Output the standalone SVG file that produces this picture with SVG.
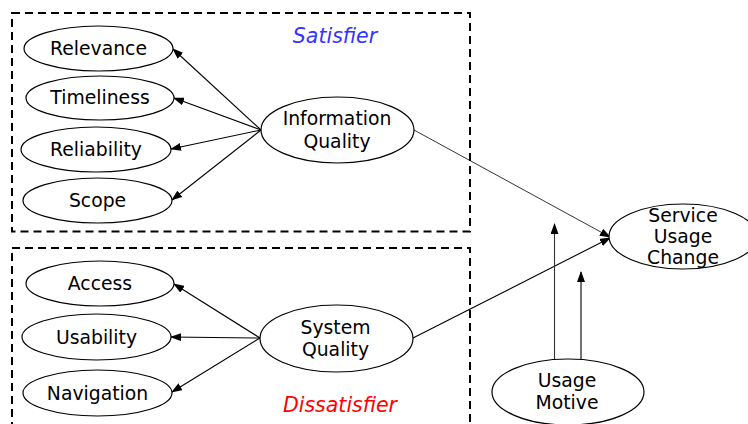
<svg xmlns="http://www.w3.org/2000/svg" width="748" height="424" viewBox="0 0 748 424">
  <style>
    .node ellipse { fill: #ffffff; stroke: #000000; stroke-width: 1.2; }
    .node text { font-family: "DejaVu Sans", Verdana, sans-serif; font-size: 18.8px; fill: #000000; text-anchor: middle; }
    .group { fill: none; stroke: #000000; stroke-width: 2; stroke-dasharray: 8 5; }
    .label { font-family: "DejaVu Sans", Verdana, sans-serif; font-size: 20.5px; font-style: italic; text-anchor: middle; }
    .edge { stroke: #000000; stroke-width: 1.1; fill: none; marker-end: url(#arrow); }
  </style>
  <defs>
    <marker id="arrow" markerUnits="userSpaceOnUse" markerWidth="11" markerHeight="8" refX="10" refY="4" orient="auto">
      <path d="M0,0 L11,4 L0,8 z" fill="#000000"/>
    </marker>
  </defs>
  <rect width="748" height="424" fill="#ffffff"/>

  <!-- dashed grouping boxes -->
  <g id="satisfier-box">
    <rect class="group" x="12" y="13" width="458" height="218.5"/>
    <text class="label" x="335" y="43" fill="#3333ff">Satisfier</text>
  </g>
  <g id="dissatisfier-box">
    <path class="group" d="M12,430 L12,248 L470,248 L470,430"/>
    <text class="label" x="340" y="412" fill="#ff0000">Dissatisfier</text>
  </g>

  <!-- connectors -->
  <g id="connectors">
    <line class="edge" x1="261" y1="130" x2="173" y2="49"/>
    <line class="edge" x1="261" y1="130" x2="174" y2="98"/>
    <line class="edge" x1="261" y1="130" x2="171" y2="149"/>
    <line class="edge" x1="261" y1="130" x2="172" y2="200"/>
    <line class="edge" x1="260" y1="338" x2="174" y2="284"/>
    <line class="edge" x1="260" y1="338" x2="171" y2="337"/>
    <line class="edge" x1="260" y1="338" x2="172" y2="392"/>
    <line class="edge" x1="414" y1="130" x2="610" y2="237" style="stroke-width:0.8"/>
    <line class="edge" x1="413" y1="338" x2="610" y2="238"/>
    <line class="edge" x1="554.5" y1="359" x2="554.5" y2="224" style="stroke:#333333"/>
    <line class="edge" x1="581" y1="360" x2="581" y2="272"/>
  </g>

  <!-- nodes -->
  <g id="relevance" class="node">
    <ellipse cx="98.5" cy="48.5" rx="74.5" ry="22.5"/>
    <text x="98.5" y="54.5">Relevance</text>
  </g>
  <g id="timeliness" class="node">
    <ellipse cx="100" cy="98" rx="74" ry="22"/>
    <text x="100" y="104">Timeliness</text>
  </g>
  <g id="reliability" class="node">
    <ellipse cx="96" cy="149.5" rx="75" ry="22.5"/>
    <text x="96" y="156">Reliability</text>
  </g>
  <g id="scope" class="node">
    <ellipse cx="97.5" cy="200.5" rx="74.5" ry="22.5"/>
    <text x="97.5" y="207">Scope</text>
  </g>
  <g id="information-quality" class="node">
    <ellipse cx="337.5" cy="130" rx="76.5" ry="33"/>
    <text x="337" y="124.5">Information</text>
    <text x="337" y="147.5">Quality</text>
  </g>
  <g id="access" class="node">
    <ellipse cx="100" cy="283.5" rx="74" ry="22.5"/>
    <text x="100" y="289.5">Access</text>
  </g>
  <g id="usability" class="node">
    <ellipse cx="96.5" cy="337" rx="74.5" ry="23"/>
    <text x="96.5" y="343.5">Usability</text>
  </g>
  <g id="navigation" class="node">
    <ellipse cx="97.5" cy="393" rx="74.5" ry="23"/>
    <text x="97.5" y="399.5">Navigation</text>
  </g>
  <g id="system-quality" class="node">
    <ellipse cx="336.5" cy="338.5" rx="76.5" ry="33.5"/>
    <text x="335.5" y="334">System</text>
    <text x="335.5" y="356">Quality</text>
  </g>
  <g id="service-usage-change" class="node">
    <ellipse cx="683" cy="236.5" rx="74" ry="32.5"/>
    <text x="683" y="222">Service</text>
    <text x="683" y="243">Usage</text>
    <text x="683" y="264">Change</text>
  </g>
  <g id="usage-motive" class="node">
    <ellipse cx="568" cy="392" rx="76" ry="33"/>
    <text x="567" y="387">Usage</text>
    <text x="567" y="409">Motive</text>
  </g>
</svg>
